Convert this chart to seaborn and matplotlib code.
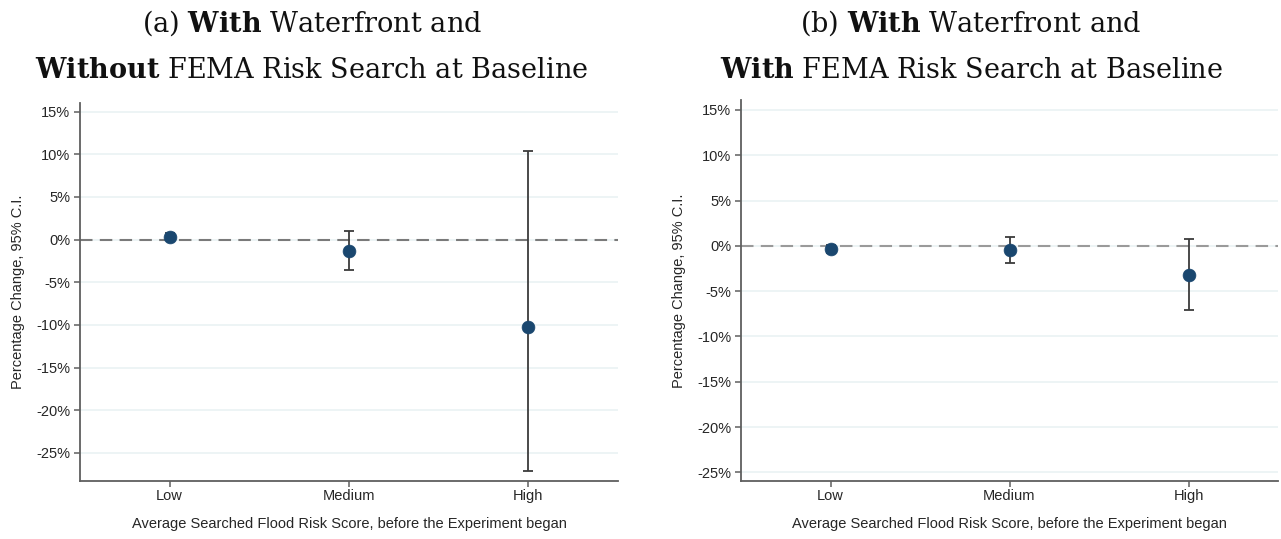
import matplotlib
matplotlib.use("Agg")
import matplotlib.pyplot as plt
import seaborn as sns
import pandas as pd
from matplotlib.ticker import FuncFormatter

# Point estimates and 95% confidence bounds (percent change)
risk_levels = ["Low", "Medium", "High"]

est_a = [0.35, -1.4, -10.3]
lo_a = [-0.05, -3.6, -27.1]
hi_a = [0.75, 1.0, 10.35]

est_b = [-0.35, -0.5, -3.25]
lo_b = [-0.75, -1.9, -7.05]
hi_b = [0.05, 1.0, 0.75]

y_ticks = [15, 10, 5, 0, -5, -10, -15, -20, -25]

title_a = [r"(a) $\mathbf{With}$ Waterfront and",
           r"$\mathbf{Without}$ FEMA Risk Search at Baseline"]
title_b = [r"(b) $\mathbf{With}$ Waterfront and",
           r"$\mathbf{With}$ FEMA Risk Search at Baseline"]

x_label = "Average Searched Flood Risk Score, before the Experiment began"
y_label = "Percentage Change, 95% C.I."

sns.set_theme(style="white")
plt.rcParams["font.family"] = ["Liberation Sans", "DejaVu Sans"]
plt.rcParams["mathtext.fontset"] = "custom"
plt.rcParams["mathtext.rm"] = "DejaVu Serif"
plt.rcParams["mathtext.bf"] = "DejaVu Serif:bold"

MARKER = "#1a476f"
BAR = "#3c3c3c"
AXIS = "#5f5f5f"
GRID = "#eaf2f3"

W, H = 1281, 539
fig = plt.figure(figsize=(W / 100, H / 100), dpi=100)


def panel(rect, est, lo, hi, ylim, dash_color, title, title_x):
    ax = fig.add_axes(rect)
    df = pd.DataFrame({"risk": risk_levels, "est": est, "lo": lo, "hi": hi})
    for t in y_ticks:
        ax.axhline(t, color=GRID, lw=1.2, zorder=0)
    ax.axhline(0, color=dash_color, lw=1.5, ls=(0, (6, 3.5)), zorder=1)
    ax.errorbar(df["risk"], df["est"],
                yerr=[df["est"] - df["lo"], df["hi"] - df["est"]],
                fmt="none", ecolor=BAR, elinewidth=1.3, capsize=3.6,
                capthick=1.3, zorder=2)
    sns.scatterplot(data=df, x="risk", y="est", ax=ax, color=MARKER,
                    s=85, edgecolor=MARKER, linewidth=0.5, zorder=3)
    ax.set_xlim(-0.5, 2.5)
    ax.set_ylim(*ylim)
    ax.set_yticks(y_ticks)
    ax.yaxis.set_major_formatter(FuncFormatter(lambda v, p: f"{v:.0f}%"))
    for s in ["top", "right"]:
        ax.spines[s].set_visible(False)
    for s in ["left", "bottom"]:
        ax.spines[s].set_color(AXIS)
        ax.spines[s].set_linewidth(1.3)
    ax.tick_params(axis="both", which="major", direction="out", length=4,
                   width=1.1, color=AXIS, labelsize=10.5, labelcolor="#262626",
                   left=True, bottom=True, pad=3)
    ax.tick_params(axis="x", pad=1.5)
    ax.set_xlabel(x_label, fontsize=10.5, color="#262626", labelpad=10)
    ax.set_ylabel(y_label, fontsize=10.5, color="#262626", labelpad=8)
    fig.text(title_x, 1 - 23 / H, title[0], ha="center", va="center",
             fontsize=19.5, family="DejaVu Serif", color="#111111")
    fig.text(title_x, 1 - 71 / H, title[1], ha="center", va="center",
             fontsize=19.5, family="DejaVu Serif", color="#111111")
    return ax


panel([80 / W, (H - 481) / H, 538 / W, 378 / H], est_a, lo_a, hi_a,
      (-28.3, 16.0), "#7a7a7a", title_a, 312 / W)
panel([741 / W, (H - 481) / H, 537 / W, 381 / H], est_b, lo_b, hi_b,
      (-25.95, 16.1), "#9a9a9a", title_b, 971 / W)

fig.savefig("out.png", dpi=100)
